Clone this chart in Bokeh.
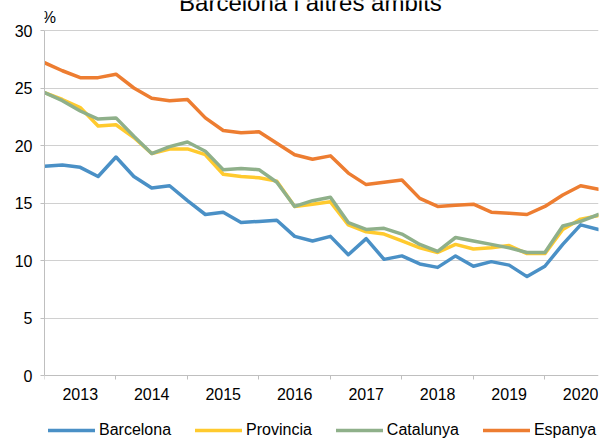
from bokeh.plotting import figure
from bokeh.models import Range1d, FixedTicker, Legend, LegendItem, Label
from bokeh.core.properties import value
from bokeh.embed import file_html
from bokeh.resources import INLINE

# quarterly points, 2013 Q1 .. 2020 Q4
quarters = list(range(32))
year_labels = ["2013", "2014", "2015", "2016", "2017", "2018", "2019", "2020"]
year_label_pos = [2, 6, 10, 14, 18, 22, 26, 30]
year_bounds = [0, 4, 8, 12, 16, 20, 24, 28]
y_ticks = [0, 5, 10, 15, 20, 25, 30]

barcelona = [18.2, 18.3, 18.1, 17.3, 19.0, 17.3, 16.3, 16.5, 15.2, 14.0, 14.2, 13.3,
             13.4, 13.5, 12.1, 11.7, 12.1, 10.5, 11.9, 10.1, 10.4, 9.7, 9.4, 10.4,
             9.5, 9.9, 9.6, 8.6, 9.5, 11.4, 13.1, 12.7]
provincia = [24.6, 24.0, 23.3, 21.7, 21.8, 20.7, 19.3, 19.7, 19.7, 19.2, 17.5, 17.3,
             17.2, 16.9, 14.7, 14.9, 15.1, 13.1, 12.5, 12.3, 11.7, 11.1, 10.7, 11.4,
             11.0, 11.1, 11.3, 10.6, 10.6, 12.7, 13.6, 13.9]
catalunya = [24.6, 23.9, 23.0, 22.3, 22.4, 20.8, 19.3, 19.9, 20.3, 19.5, 17.9, 18.0,
             17.9, 16.8, 14.7, 15.2, 15.5, 13.3, 12.7, 12.8, 12.3, 11.4, 10.8, 12.0,
             11.7, 11.4, 11.1, 10.7, 10.7, 13.0, 13.4, 14.0]
espanya = [27.2, 26.5, 25.9, 25.9, 26.2, 25.0, 24.1, 23.9, 24.0, 22.4, 21.3, 21.1,
           21.2, 20.2, 19.2, 18.8, 19.1, 17.6, 16.6, 16.8, 17.0, 15.4, 14.7, 14.8,
           14.9, 14.2, 14.1, 14.0, 14.7, 15.7, 16.5, 16.2]

series_names = ["Barcelona", "Provincia", "Catalunya", "Espanya"]
series_values = [barcelona, provincia, catalunya, espanya]
series_colors = ["#4a90c6", "#ffca2e", "#8fb08a", "#ed7d31"]

FONT = "Liberation Sans"
PX_PER_UNIT = 11.5          # vertical scale: 0 at ~375 px, 30 at ~30 px
Y_MIN = -(439 - 375) / PX_PER_UNIT
Y_MAX = 30 + 30 / PX_PER_UNIT

# the frame spans the whole canvas height so that title, unit, year labels
# and legend (all drawn inside the frame) are not clipped
p = figure(width=614, height=439, output_backend="svg", toolbar_location=None,
           title=None,
           x_range=Range1d(0, 31), y_range=Range1d(Y_MIN, Y_MAX),
           min_border_left=44, min_border_right=16, min_border_top=0,
           min_border_bottom=0)
p.outline_line_color = None
p.background_fill_color = "white"
p.border_fill_color = "white"

renderers = []
for name, vals, col in zip(series_names, series_values, series_colors):
    r = p.line(quarters, vals, line_color=col, line_width=3.5,
               line_join="round", line_cap="round")
    renderers.append(r)

# x axis: line and year-boundary ticks at y = 0, labels drawn as text
p.xaxis.fixed_location = 0
p.xaxis.ticker = FixedTicker(ticks=year_label_pos, minor_ticks=year_bounds)
p.xaxis.major_label_overrides = {pos: "" for pos in year_label_pos}
p.xaxis.major_label_text_font_size = "0px"
p.xaxis.major_label_standoff = 0
p.xaxis.major_tick_line_color = None
p.xaxis.major_tick_out = 0
p.xaxis.major_tick_in = 0
p.xaxis.minor_tick_line_color = "#bfbfbf"
p.xaxis.minor_tick_out = 4
p.xaxis.minor_tick_in = 0
p.xaxis.axis_line_color = "#bfbfbf"
p.xgrid.grid_line_color = None

label_y = -18 / PX_PER_UNIT
p.text(x=year_label_pos, y=[label_y] * len(year_label_pos), text=year_labels,
       text_align="center", text_baseline="middle", text_font=value(FONT),
       text_font_size="16px", text_color="black")

# y axis
p.yaxis.ticker = FixedTicker(ticks=y_ticks)
p.yaxis.bounds = (0, 30)
p.yaxis.axis_line_color = "#bfbfbf"
p.yaxis.major_tick_line_color = "#bfbfbf"
p.yaxis.major_tick_out = 4
p.yaxis.major_tick_in = 0
p.yaxis.minor_tick_line_color = None
p.yaxis.major_label_standoff = 8
p.yaxis.major_label_text_font = FONT
p.yaxis.major_label_text_font_size = "16px"
p.yaxis.major_label_text_color = "black"
p.ygrid.ticker = FixedTicker(ticks=y_ticks[1:])
p.ygrid.grid_line_color = "#d0d0d0"
p.ygrid.grid_line_width = 1

# title (partly cut by the top edge, as in the source) and unit
p.add_layout(Label(x=14.88, y=30 + 28.5 / PX_PER_UNIT, text="Barcelona i altres àmbits",
                   text_align="center", text_baseline="middle",
                   text_font=FONT, text_font_size="24px", text_color="black"))
p.add_layout(Label(x=0.25, y=30 + 13.5 / PX_PER_UNIT, text="%", text_align="center",
                   text_baseline="middle", text_font=FONT,
                   text_font_size="16px", text_color="black"))

legend = Legend(items=[LegendItem(label=n, renderers=[r]) for n, r in zip(series_names, renderers)],
                orientation="horizontal", location=(4, 0),
                glyph_width=47, glyph_height=18, label_standoff=4, spacing=24,
                padding=0, margin=0, border_line_color=None,
                background_fill_alpha=0, label_text_font=FONT,
                label_text_font_size="16px", label_text_color="black")
p.add_layout(legend)

open("out.html", "w").write(file_html(p, INLINE))
